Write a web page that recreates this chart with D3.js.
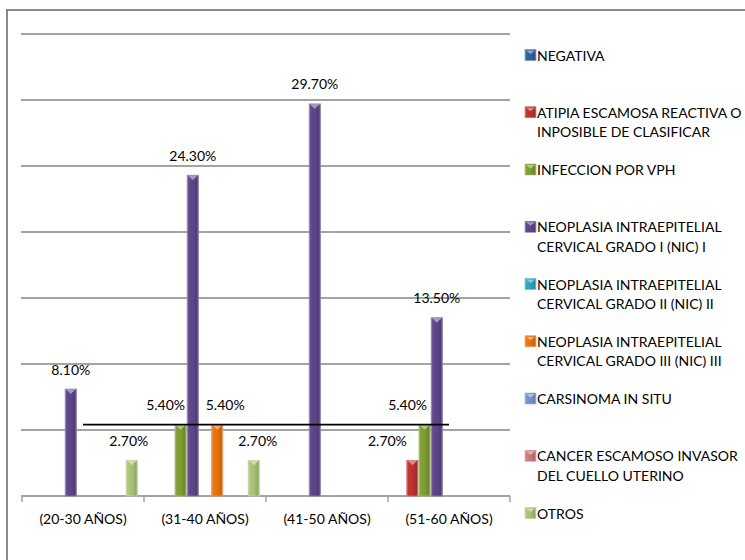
<!DOCTYPE html>
<html>
<head>
<meta charset="utf-8">
<script src="https://cdn.jsdelivr.net/npm/d3@7"></script>
<style>
  html, body { margin: 0; padding: 0; background: #fff; }
  svg { display: block; }
  text { font-family: Lato, "Open Sans", "Liberation Sans", sans-serif; fill: #000; }
</style>
</head>
<body>
<svg id="chart" width="745" height="560"></svg>
<script>
// Age groups on the x axis
const categories = ["(20-30 AÑOS)", "(31-40 AÑOS)", "(41-50 AÑOS)", "(51-60 AÑOS)"];

// Cytology results (percent of cases) per age group
const negativa   = [0, 0, 0, 0];
const atipia     = [0, 0, 0, 2.7];
const vph        = [0, 5.4, 0, 5.4];
const nic1       = [8.1, 24.3, 29.7, 13.5];
const nic2       = [0, 0, 0, 0];
const nic3       = [0, 5.4, 0, 0];
const carsinoma  = [0, 0, 0, 0];
const cancer     = [0, 0, 0, 0];
const otros      = [2.7, 2.7, 0, 0];

// Horizontal reference line across the groups
const referenceLine = [5.4, 5.4, 5.4, 5.4];

// Legend text, one entry per series (each entry lists its lines)
const seriesLabels = [
  ["NEGATIVA"],
  ["ATIPIA ESCAMOSA REACTIVA O", "INPOSIBLE DE CLASIFICAR"],
  ["INFECCION POR VPH"],
  ["NEOPLASIA INTRAEPITELIAL", "CERVICAL GRADO I (NIC) I"],
  ["NEOPLASIA INTRAEPITELIAL", "CERVICAL GRADO II (NIC) II"],
  ["NEOPLASIA INTRAEPITELIAL", "CERVICAL GRADO III (NIC) III"],
  ["CARSINOMA IN SITU"],
  ["CANCER ESCAMOSO INVASOR", "DEL CUELLO UTERINO"],
  ["OTROS"]
];

// Y axis: 0–35 % with a gridline every 5 %
const yTicks = [0, 5, 10, 15, 20, 25, 30, 35];

const seriesValues = [negativa, atipia, vph, nic1, nic2, nic3, carsinoma, cancer, otros];
const palette = ["#2d5f9a", "#b8322f", "#7b9b33", "#5b4487", "#2fa0bf", "#e2700f", "#7290c6", "#c47676", "#a4bf72"];

const series = seriesValues.map((values, i) => ({ id: i, values, color: palette[i], label: seriesLabels[i] }));

// Small horizontal shifts for value labels that would otherwise collide
const labelNudge = { "0-8": -3, "1-2": -15, "1-5": 8, "1-8": 4, "3-1": -25, "3-2": -17 };

const svg = d3.select("#chart");

// Outer frame (left and top edges fall inside the view)
svg.append("path")
  .attr("d", "M7,560 L7,10 L745,10")
  .attr("fill", "none")
  .attr("stroke", "#8a8a8a")
  .attr("stroke-width", 2);

const plot = { left: 22, right: 510, top: 34, bottom: 496 };

const x0 = d3.scaleBand()
  .domain(d3.range(categories.length))
  .range([plot.left, plot.right])
  .paddingInner(0)
  .paddingOuter(0);

const x1 = d3.scaleBand()
  .domain(d3.range(series.length))
  .range([0, x0.bandwidth()])
  .paddingInner(0)
  .paddingOuter(0.5);

const y = d3.scaleLinear()
  .domain([0, 35])
  .range([plot.bottom, plot.top]);

// Gradients giving each bar a rounded, bevelled look
const defs = svg.append("defs");
series.forEach(s => {
  const c = d3.color(s.color);
  const g = defs.append("linearGradient")
    .attr("id", "grad" + s.id)
    .attr("x1", "0").attr("x2", "1").attr("y1", "0").attr("y2", "0");
  g.append("stop").attr("offset", "0").attr("stop-color", d3.interpolateRgb(c, "#fff")(0.35));
  g.append("stop").attr("offset", "0.14").attr("stop-color", c.brighter(0.15));
  g.append("stop").attr("offset", "0.55").attr("stop-color", c);
  g.append("stop").attr("offset", "0.86").attr("stop-color", c.darker(0.35));
  g.append("stop").attr("offset", "1").attr("stop-color", d3.interpolateRgb(c, "#fff")(0.25));
});

// Gridlines
svg.append("g")
  .selectAll("line")
  .data(yTicks.filter(t => t > 0))
  .join("line")
  .attr("x1", plot.left - 1)
  .attr("x2", plot.right)
  .attr("y1", d => y(d))
  .attr("y2", d => y(d))
  .attr("stroke", "#a3a3a3")
  .attr("stroke-width", 2);

// Category axis
const xAxis = svg.append("g")
  .attr("transform", `translate(0,${plot.bottom})`);
xAxis.append("line")
  .attr("x1", plot.left - 1).attr("x2", plot.right)
  .attr("y1", 0).attr("y2", 0)
  .attr("stroke", "#a3a3a3").attr("stroke-width", 2);
const boundaries = d3.range(categories.length + 1).map(i => i < categories.length ? x0(i) : x0(i - 1) + x0.bandwidth());
xAxis.selectAll("line.tick")
  .data(boundaries)
  .join("line")
  .attr("class", "tick")
  .attr("x1", d => d).attr("x2", d => d)
  .attr("y1", 0).attr("y2", 6)
  .attr("stroke", "#a3a3a3").attr("stroke-width", 1.5);
xAxis.selectAll("text")
  .data(categories)
  .join("text")
  .attr("x", (d, i) => x0(i) + x0.bandwidth() / 2)
  .attr("y", 22)
  .attr("dominant-baseline", "central")
  .attr("text-anchor", "middle")
  .attr("font-size", 14)
  .text(d => d);

// Bars
const barData = [];
series.forEach(s => s.values.forEach((v, g) => {
  if (v > 0) barData.push({ s, g, v });
}));

const bars = svg.append("g");
const barGroups = bars.selectAll("g.bar")
  .data(barData)
  .join("g")
  .attr("class", "bar");

barGroups.append("rect")
  .attr("x", d => x0(d.g) + x1(d.s.id) + 0.5)
  .attr("y", d => y(d.v))
  .attr("width", x1.bandwidth() - 1)
  .attr("height", d => y(0) - y(d.v))
  .attr("fill", d => `url(#grad${d.s.id})`)
  .attr("stroke", d => d3.interpolateRgb(d.s.color, "#fff")(0.3))
  .attr("stroke-width", 0.8);

// Bevel highlight on top of each bar
barGroups.append("path")
  .attr("d", d => {
    const xa = x0(d.g) + x1(d.s.id) + 1;
    const w = x1.bandwidth() - 2;
    const t = y(d.v);
    return `M${xa},${t} L${xa + w},${t} L${xa + w / 2},${t + 5} Z`;
  })
  .attr("fill", d => d3.interpolateRgb(d.s.color, "#fff")(0.45));

// Value labels
svg.append("g")
  .selectAll("text")
  .data(barData)
  .join("text")
  .attr("x", d => x0(d.g) + x1(d.s.id) + x1.bandwidth() / 2 + (labelNudge[d.g + "-" + d.s.id] || 0))
  .attr("y", d => y(d.v) - 20)
  .attr("dominant-baseline", "central")
  .attr("text-anchor", "middle")
  .attr("font-size", 14)
  .text(d => d3.format(".2f")(d.v) + "%");

// Reference line
const line = d3.line()
  .x((d, i) => x0(i) + x0.bandwidth() / 2)
  .y(d => y(d));
svg.append("path")
  .datum(referenceLine)
  .attr("d", line)
  .attr("fill", "none")
  .attr("stroke", "#000")
  .attr("stroke-width", 1.8);

// Legend
const legend = svg.append("g");
const legendItems = legend.selectAll("g")
  .data(series)
  .join("g")
  .attr("transform", (d, i) => `translate(525,${55 + i * 57.25})`);

legendItems.append("rect")
  .attr("x", 0).attr("y", -5.5)
  .attr("width", 11).attr("height", 11)
  .attr("fill", d => `url(#grad${d.id})`)
  .attr("stroke", d => d3.interpolateRgb(d.color, "#fff")(0.3))
  .attr("stroke-width", 0.6);
legendItems.append("path")
  .attr("d", "M1,-4.5 L10,-4.5 L5.5,-1 Z")
  .attr("fill", d => d3.interpolateRgb(d.color, "#fff")(0.45));

legendItems.each(function(d) {
  const g = d3.select(this);
  d.label.forEach((ln, k) => {
    g.append("text")
      .attr("x", 12)
      .attr("y", k * 19.5)
      .attr("dominant-baseline", "central")
      .attr("font-size", 14)
      .text(ln);
  });
});
</script>
</body>
</html>
